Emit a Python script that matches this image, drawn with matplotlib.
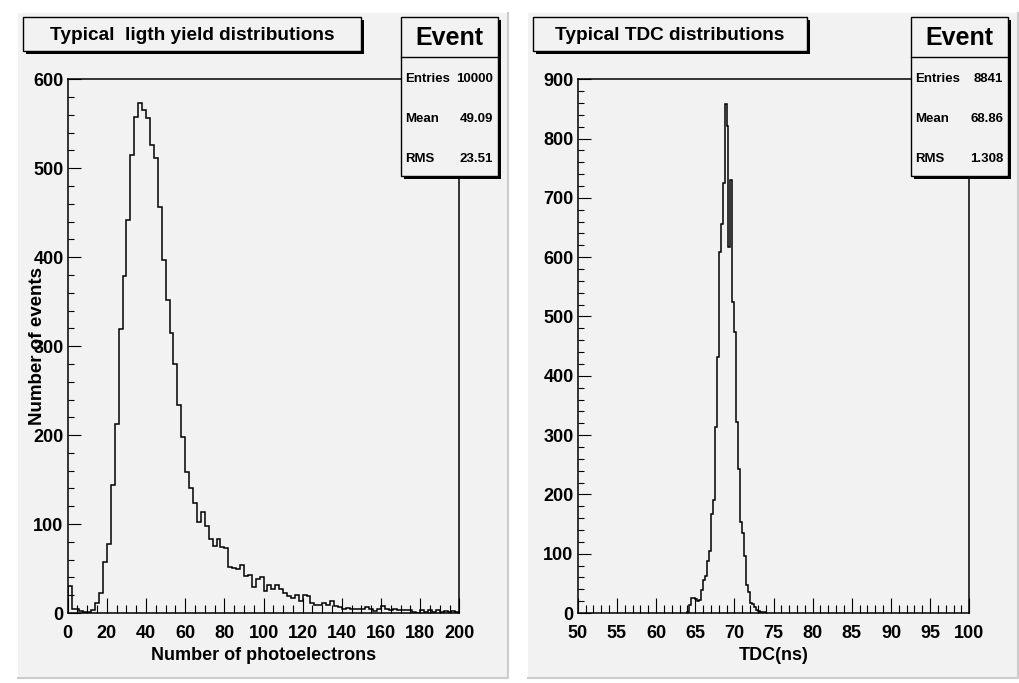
import numpy as np
import matplotlib
matplotlib.use("Agg")
import matplotlib.pyplot as plt
import matplotlib.transforms as mtransforms
from matplotlib.patches import Rectangle
from matplotlib.lines import Line2D
from matplotlib.ticker import MultipleLocator

plt.rcParams['font.family'] = ['Liberation Sans', 'DejaVu Sans']
plt.rcParams['font.weight'] = 'bold'

# Light yield histogram: 100 bins of width 2 from 0 to 200
ly_lo, ly_width = 0.0, 2.0
ly_counts = [30, 5, 4, 2, 1, 1, 3, 11, 22, 57,
             78, 144, 213, 319, 379, 442, 515, 558, 573, 565,
             557, 526, 512, 456, 397, 352, 315, 280, 234, 198,
             158, 141, 124, 102, 114, 98, 83, 75, 83, 74,
             73, 52, 51, 49, 54, 42, 43, 29, 38, 40,
             25, 32, 27, 32, 27, 22, 19, 17, 20, 14,
             20, 19, 11, 9, 9, 11, 9, 14, 8, 7,
             5, 6, 5, 5, 5, 5, 7, 5, 2, 5,
             8, 5, 3, 4, 3, 3, 3, 3, 1, 0,
             3, 1, 3, 1, 3, 1, 2, 1, 2, 1]
ly_stats = [("Entries", "10000"), ("Mean", "49.09"), ("RMS", "23.51")]

# TDC histogram: bins of width 0.25, non-empty region starting at 64.0 ns
tdc_lo, tdc_width = 64.0, 0.25
tdc_counts = [2, 14, 26, 26, 24, 21, 22, 38, 56, 63,
              88, 104, 167, 191, 313, 431, 608, 656, 725, 858,
              822, 618, 730, 525, 474, 322, 243, 153, 135, 96,
              48, 36, 17, 15, 10, 5, 3, 2, 1, 1]
tdc_stats = [("Entries", "8841"), ("Mean", "68.86"), ("RMS", "1.308")]

W, H = 1019, 683
PAD_GRAY = '#f2f2f2'

fig = plt.figure(figsize=(W / 100, H / 100), dpi=100)
fig.patch.set_facecolor('white')
# pixel coordinates, origin top-left
pix = mtransforms.Affine2D().scale(1 / W, -1 / H).translate(0, 1) + fig.transFigure


def rect(x0, y0, x1, y1, **kw):
    fig.add_artist(Rectangle((x0, y0), x1 - x0, y1 - y0, transform=pix, **kw))


def line(xs, ys, **kw):
    fig.add_artist(Line2D(xs, ys, transform=pix, **kw))


def text_box(x0, y0, x1, y1):
    rect(x0 + 3, y0 + 3, x1 + 3, y1 + 3, fc='black', ec='none', zorder=5)
    rect(x0, y0, x1, y1, fc=PAD_GRAY, ec='black', lw=1.0, zorder=5.1)


def panel(dx, counts, lo, width, xlim, ylim, xmaj, xmin, title, title_right,
          xlabel, ylabel, stats):
    # pad background with bevel
    rect(18 + dx, 13, 508 + dx, 678, fc=PAD_GRAY, ec='none', zorder=-10)
    line([508 + dx, 508 + dx, 18 + dx], [13, 678, 678], color='#cccccc', lw=1.5, zorder=-9)

    x0, y0, x1, y1 = 67.7 + dx, 79.3, 459.3 + dx, 613
    ax = fig.add_axes([x0 / W, 1 - y1 / H, (x1 - x0) / W, (y1 - y0) / H])
    ax.set_facecolor('none')
    edges = lo + width * np.arange(len(counts) + 1)
    ax.stairs(counts, edges, color='black', lw=1.1)
    ax.set_xlim(xlim)
    ax.set_ylim(ylim)
    ax.xaxis.set_major_locator(MultipleLocator(xmaj))
    ax.xaxis.set_minor_locator(MultipleLocator(xmin))
    ax.yaxis.set_major_locator(MultipleLocator(100))
    ax.yaxis.set_minor_locator(MultipleLocator(20))
    ax.tick_params(which='both', direction='in', top=False, right=False, width=0.8)
    ax.tick_params(axis='x', which='major', length=11, pad=8.5, labelsize=13)
    ax.tick_params(axis='x', which='minor', length=5.5)
    ax.tick_params(axis='y', which='major', length=9, pad=3, labelsize=13)
    ax.tick_params(axis='y', which='minor', length=4.5)
    for s in ax.spines.values():
        s.set_linewidth(1.1)

    ax.set_xlabel(xlabel, fontsize=13, fontweight='bold', va='center')
    ax.xaxis.set_label_coords(0.5, -0.08)
    if ylabel:
        ax.set_ylabel(ylabel, fontsize=13.5, fontweight='bold', va='center', ha='center')
        ax.yaxis.set_label_coords(-0.076, 0.5)

    # title box
    text_box(23.3 + dx, 16.7, title_right + dx, 50.7)
    fig.text((23.3 + title_right) / 2 + dx, 35.3, title, transform=pix, ha='center',
             va='center', fontsize=13.7, fontweight='bold', zorder=6)

    # stats box
    sx0, sx1 = 400.7 + dx, 498.3 + dx
    text_box(sx0, 16.7, sx1, 176)
    line([sx0, sx1], [56.7, 56.7], color='black', lw=1.0, zorder=6)
    fig.text((sx0 + sx1) / 2, 38, "Event", transform=pix, ha='center', va='center',
             fontsize=18, fontweight='bold', zorder=6)
    for i, (name, val) in enumerate(stats):
        yy = 79.5 + 40 * i
        fig.text(sx0 + 4, yy, name, transform=pix, ha='left', va='center',
                 fontsize=9.5, fontweight='bold', zorder=6)
        fig.text(sx1 - 5, yy, val, transform=pix, ha='right', va='center',
                 fontsize=9.5, fontweight='bold', zorder=6)
    return ax


panel(0, ly_counts, ly_lo, ly_width, (0, 200), (0, 600), 20, 5,
      "Typical  ligth yield distributions", 360.7,
      "Number of photoelectrons", "Number of events", ly_stats)
panel(510, tdc_counts, tdc_lo, tdc_width, (50, 100), (0, 900), 5, 1,
      "Typical TDC distributions", 296.7,
      "TDC(ns)", None, tdc_stats)

fig.savefig("out.png", dpi=100)
